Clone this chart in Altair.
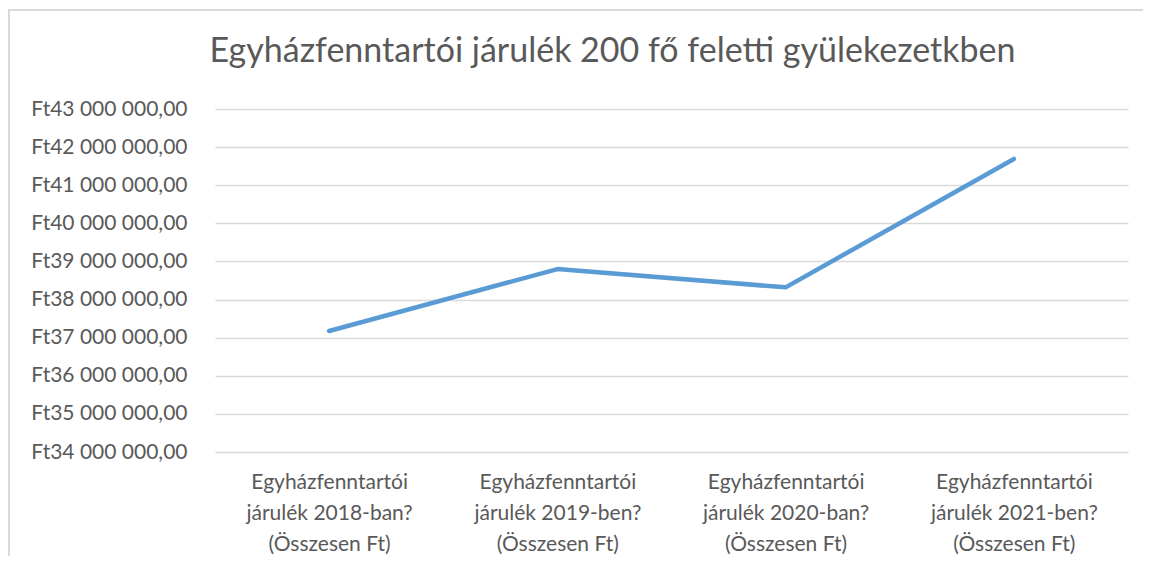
import altair as alt
import pandas as pd

categories = [
    "Egyházfenntartói\njárulék 2018-ban?\n(Összesen Ft)",
    "Egyházfenntartói\njárulék 2019-ben?\n(Összesen Ft)",
    "Egyházfenntartói\njárulék 2020-ban?\n(Összesen Ft)",
    "Egyházfenntartói\njárulék 2021-ben?\n(Összesen Ft)",
]
values = [37175000, 38800000, 38320000, 41690000]
y_ticks = [34e6, 35e6, 36e6, 37e6, 38e6, 39e6, 40e6, 41e6, 42e6, 43e6]
title_text = "Egyházfenntartói járulék 200 fő feletti gyülekezetkben"

df = pd.DataFrame({"cat": categories, "val": values})

FONT = "Lato"
GRAY = "#595959"

W, H = 913, 343

line = alt.Chart(df).mark_line(
    color="#5b9bd5", strokeWidth=4.5, strokeCap="round", strokeJoin="round"
).encode(
    x=alt.X(
        "cat:N",
        sort=categories,
        scale=alt.Scale(paddingInner=0, paddingOuter=0.5),
        axis=alt.Axis(
            title=None,
            labelAngle=0,
            labelExpr="split(datum.label, '\\n')",
            labelFont=FONT,
            labelFontSize=21,
            labelColor=GRAY,
            labelLineHeight=31,
            labelPadding=19,
            labelBaseline="top",
            ticks=False,
            domain=False,
            grid=False,
        ),
    ),
    y=alt.Y(
        "val:Q",
        scale=alt.Scale(domain=[34e6, 43e6], nice=False, zero=False),
        axis=alt.Axis(
            title=None,
            values=y_ticks,
            labelExpr="'Ft' + format(datum.value / 1000000, 'd') + ' 000 000,00'",
            labelFont=FONT,
            labelFontSize=21,
            labelColor=GRAY,
            labelPadding=28,
            ticks=False,
            domain=False,
            grid=True,
            gridColor="#d9d9d9",
            gridWidth=1.3,
        ),
    ),
)

border = alt.Chart(df).mark_rect(
    filled=False, fillOpacity=0, stroke="#d9d9d9", strokeWidth=2, clip=False
).encode(
    x=alt.value(-206),
    x2=alt.value(W + 80),
    y=alt.value(-99),
    y2=alt.value(H + 140),
)

chart = alt.layer(border, line).properties(
    width=W,
    height=H,
    title=alt.TitleParams(
        title_text,
        font=FONT,
        fontSize=34,
        fontWeight=400,
        color=GRAY,
        anchor="middle",
        frame="group",
        baseline="alphabetic",
        offset=-87,
        dx=-59,
        zindex=1,
    ),
    autosize=alt.AutoSizeParams(type="none"),
    padding={"left": 207, "top": 101, "right": 15, "bottom": 104},
).configure(
    background="white",
    view=alt.ViewConfig(stroke="transparent"),
)

chart.save("out.html", embed_options={"renderer": "svg", "actions": False})
